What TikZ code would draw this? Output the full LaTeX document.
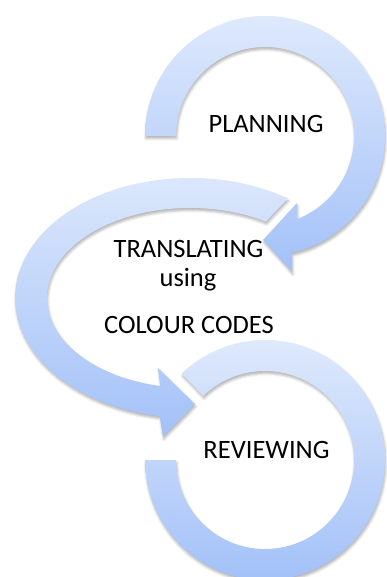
\documentclass[tikz,border=0pt]{standalone}
\usepackage{fontspec}
\setmainfont{Carlito}
\usetikzlibrary{shadows.blur}
\definecolor{ringtop}{HTML}{DEE9FC}
\definecolor{ringbot}{HTML}{A3C1F8}
\begin{document}
\begin{tikzpicture}[x=1pt,y=1pt,
  ring/.style={top color=ringtop, bottom color=ringbot, draw=none,
    blur shadow={shadow xshift=0.8pt, shadow yshift=-2.5pt, shadow blur radius=2.5pt, shadow opacity=30}},
  lbl/.style={font=\fontsize{26.5}{31}\selectfont, text=black, inner sep=0pt, anchor=base}]
\useasboundingbox (0,0) rectangle (386,577);
% bottom ring (REVIEWING)
\path[ring] (145,117) arc[start angle=180, end angle=494, radius=120]
  -- (203.2,181) arc[start angle=494, end angle=180, radius=89] -- cycle;
% middle arrow (TRANSLATING)
\path[ring] (287.9,378.5) arc[start angle=56, end angle=260, x radius=175, y radius=120]
  -- (163,140) -- (195,173) -- (158,209) -- (160.3,191)
  arc[start angle=258, end angle=58, x radius=143, y radius=90] -- cycle;
% top arrow (PLANNING)
\path[ring] (145,441) arc[start angle=180, end angle=-77, radius=120]
  -- (292,305) -- (263,337) -- (297,374) -- (296.9,357.9)
  arc[start angle=-69, end angle=180, radius=89] -- cycle;
% labels
\node[lbl] (plan) at (266,444) {PLANNING};
\node[lbl] (trans) at (188.5,319) {TRANSLATING};
\node[lbl] (using) at (188,290) {using};
\node[lbl] (codes) at (189,243) {COLOUR CODES};
\node[lbl] (rev) at (266.5,118) {REVIEWING};
\end{tikzpicture}
\end{document}
